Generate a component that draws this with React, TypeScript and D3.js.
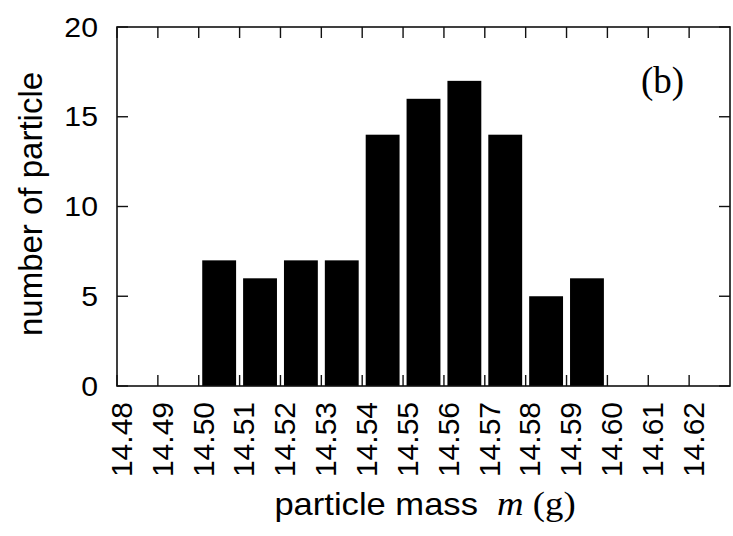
import { useEffect, useRef } from 'react';
import * as d3 from 'd3';

// histogram bins (lower edge of each bin, in g) and counts
const binStarts = [14.50, 14.51, 14.52, 14.53, 14.54, 14.55, 14.56, 14.57, 14.58, 14.59];
const counts = [7, 6, 7, 7, 14, 16, 17, 14, 5, 6];
const xTicks = [14.48, 14.49, 14.50, 14.51, 14.52, 14.53, 14.54, 14.55, 14.56, 14.57, 14.58, 14.59, 14.60, 14.61, 14.62];
const yTicks = [0, 5, 10, 15, 20];
const binWidth = 0.01;

const App = () => {
  const svgRef = useRef<SVGSVGElement>(null);

  useEffect(() => {
    if (!svgRef.current) return;
    const svg = d3.select(svgRef.current);
    svg.selectAll('*').remove();

    const margin = { top: 27, right: 3, bottom: 150, left: 117 };
    const W = 733;
    const H = 536;
    const width = W - margin.left - margin.right;
    const height = H - margin.top - margin.bottom;

    const g = svg.append('g').attr('transform', `translate(${margin.left},${margin.top})`);

    const x = d3.scaleLinear().domain([14.48, 14.63]).range([0, width]);
    const y = d3.scaleLinear().domain([0, 20]).range([height, 0]);

    // bars
    const gap = 3.5;
    g.selectAll('.bar')
      .data(binStarts)
      .enter()
      .append('rect')
      .attr('x', (d) => x(d) + gap)
      .attr('y', (_, i) => y(counts[i]))
      .attr('width', (d) => x(d + binWidth) - x(d) - 2 * gap)
      .attr('height', (_, i) => y(0) - y(counts[i]))
      .attr('fill', '#000');

    const tickLen = 11;
    const axisColor = '#111';

    // frame
    g.append('rect')
      .attr('x', 0)
      .attr('y', 0)
      .attr('width', width)
      .attr('height', height)
      .attr('fill', 'none')
      .attr('stroke', axisColor)
      .attr('stroke-width', 1.6);

    // x ticks (inward, bottom and top)
    xTicks.forEach((t) => {
      g.append('line')
        .attr('x1', x(t)).attr('x2', x(t))
        .attr('y1', height).attr('y2', height - tickLen)
        .attr('stroke', axisColor).attr('stroke-width', 1.4);
      g.append('line')
        .attr('x1', x(t)).attr('x2', x(t))
        .attr('y1', 0).attr('y2', tickLen)
        .attr('stroke', axisColor).attr('stroke-width', 1.4);
    });

    // y ticks (inward, left and right)
    yTicks.forEach((t) => {
      g.append('line')
        .attr('x1', 0).attr('x2', tickLen)
        .attr('y1', y(t)).attr('y2', y(t))
        .attr('stroke', axisColor).attr('stroke-width', 1.4);
      g.append('line')
        .attr('x1', width).attr('x2', width - tickLen)
        .attr('y1', y(t)).attr('y2', y(t))
        .attr('stroke', axisColor).attr('stroke-width', 1.4);
    });

    const sans = 'Liberation Sans, Arial, sans-serif';
    const serif = 'Liberation Serif, Times New Roman, serif';

    // y tick labels
    g.selectAll('.ylab')
      .data(yTicks)
      .enter()
      .append('text')
      .attr('transform', (d) => `translate(${-19},${y(d)}) scale(1.12,1)`)
      .attr('dy', '0.36em')
      .attr('text-anchor', 'end')
      .attr('font-family', sans)
      .attr('font-size', 27)
      .attr('fill', '#000')
      .text((d) => d);

    // x tick labels, rotated
    g.selectAll('.xlab')
      .data(xTicks)
      .enter()
      .append('text')
      .attr('transform', (d) => `translate(${x(d) + 4},${height + 16}) rotate(-90)`)
      .attr('dy', '0.36em')
      .attr('text-anchor', 'end')
      .attr('font-family', sans)
      .attr('font-size', 30)
      .attr('fill', '#000')
      .text((d) => d.toFixed(2));

    // y axis title
    svg.append('text')
      .attr('transform', `translate(42,204) rotate(-90)`)
      .attr('text-anchor', 'middle')
      .attr('font-family', sans)
      .attr('font-size', 33)
      .attr('fill', '#000')
      .text('number of particle');

    // x axis title
    const xt = svg.append('text')
      .attr('transform', 'translate(425,515) scale(1.08,1)')
      .attr('text-anchor', 'middle')
      .attr('font-size', 32)
      .attr('fill', '#000');
    xt.append('tspan').attr('font-family', sans).text('particle mass\u00a0\u00a0');
    xt.append('tspan').attr('font-family', serif).attr('font-style', 'italic').attr('font-size', 34).text('m');
    xt.append('tspan').attr('font-family', serif).attr('font-size', 34).text(' (g)');

    // panel label
    svg.append('text')
      .attr('x', 641)
      .attr('y', 93)
      .attr('font-family', serif)
      .attr('font-size', 37)
      .attr('fill', '#000')
      .text('(b)');
  }, []);

  return <svg ref={svgRef} width={733} height={536} style={{ display: 'block', position: 'absolute', left: 0, top: 0 }} />;
};

export default App;
